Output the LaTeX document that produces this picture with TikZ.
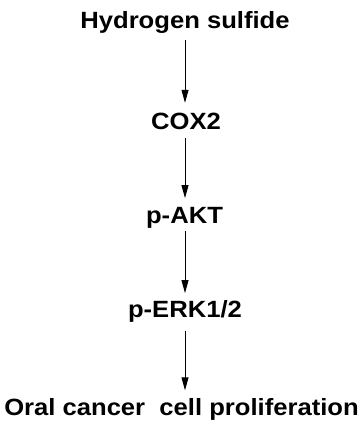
\documentclass[tikz,border=0pt]{standalone}
\usepackage{fontspec}
\setmainfont{Liberation Sans}
\usetikzlibrary{arrows.meta}
\newcommand{\wide}[1]{\scalebox{1.09}[1]{#1}}
\begin{document}
\begin{tikzpicture}[x=1pt,y=-1pt,
  lbl/.style={font=\bfseries\fontsize{23.5}{26}\selectfont, inner sep=0pt, anchor=base, text height=17pt, text depth=4pt},
  arr/.style={-{Triangle[length=13pt,width=7pt]}, line width=0.9pt}]
\useasboundingbox (0,0) rectangle (363,425);
\node[lbl] (h) at (185,28.5) {\wide{Hydrogen sulfide}};
\node[lbl] (c) at (186,129) {\wide{COX2}};
\node[lbl] (a) at (184.5,223.3) {\wide{p-AKT}};
\node[lbl] (e) at (185,317.3) {\wide{p-ERK1/2}};
\node[lbl] (o) at (181.5,415.5) {\wide{Oral cancer\ \ cell proliferation}};
\draw[arr, shorten <=7.5pt, shorten >=9pt] (h.south -| 185,0) -- (c.north -| 185,0);
\draw[arr, shorten <=5pt, shorten >=8pt] (c.south -| 185,0) -- (a.north -| 185,0);
\draw[arr, shorten <=3pt, shorten >=7pt] (a.south -| 185,0) -- (e.north -| 185,0);
\draw[arr, shorten <=9pt, shorten >=8pt] (e.south -| 185,0) -- (o.north -| 185,0);
\end{tikzpicture}
\end{document}
